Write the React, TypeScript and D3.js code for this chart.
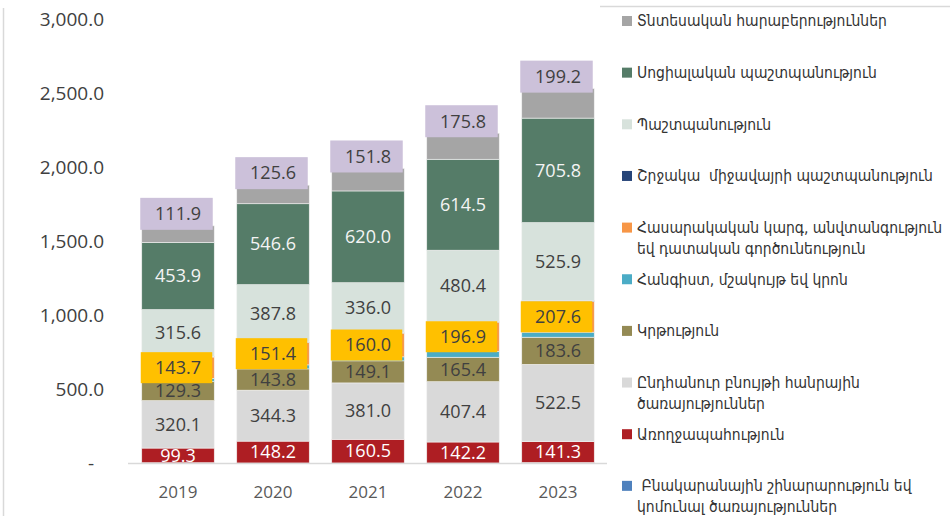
import React from 'react';
import * as d3 from 'd3';

const years = ['2019', '2020', '2021', '2022', '2023'];
const housing = [5, 3, 3, 3, 6];
const health = [99.3, 148.2, 160.5, 142.2, 141.3];
const generalServices = [320.1, 344.3, 381.0, 407.4, 522.5];
const education = [129.3, 143.8, 149.1, 165.4, 183.6];
const recreation = [22, 27, 27, 40, 34];
const publicOrder = [143.7, 151.4, 160.0, 196.9, 207.6];
const environment = [5, 3, 5, 6, 7];
const defense = [315.6, 387.8, 336.0, 480.4, 525.9];
const social = [453.9, 546.6, 620.0, 614.5, 705.8];
const economic = [111.9, 125.6, 151.8, 175.8, 199.2];
const yTicks = [0, 500, 1000, 1500, 2000, 2500, 3000];

// stacking order: bottom -> top
const seriesKeys = ['housing', 'health', 'general', 'education', 'recreation', 'publicOrder', 'environment', 'defense', 'social', 'economic'];
const seriesValues = [housing, health, generalServices, education, recreation, publicOrder, environment, defense, social, economic];
const seriesColors = ['#4f81bd', '#ae1e23', '#d9d9d9', '#948a54', '#4bacc6', '#f79646', '#264478', '#d7e2dc', '#557c68', '#a5a5a5'];
const seriesNames = [
  ['\u00a0Բնակարանային շինարարություն եվ', 'կոմունալ ծառայություններ'],
  ['Առողջապահություն'],
  ['Ընդհանուր բնույթի հանրային', 'ծառայություններ'],
  ['Կրթություն'],
  ['Հանգիստ, մշակույթ եվ կրոն'],
  ['Հասարակական կարգ, անվտանգություն', 'եվ դատական գործունեություն'],
  ['Շրջակա  միջավայրի պաշտպանություն'],
  ['Պաշտպանություն'],
  ['Սոցիալական պաշտպանություն'],
  ['Տնտեսական հարաբերություններ'],
];
// label styles
const labelMode = ['none', 'plain', 'plain', 'plain', 'none', 'yellow', 'none', 'plain', 'plain', 'lilac'];
const labelColor = ['', '#ffffff', '#404040', '#404040', '', '#404040', '', '#404040', '#f4f4f4', '#404040'];

const W = 950;
const H = 516;
const FONT = "'Open Sans', 'Liberation Sans', 'DejaVu Sans', sans-serif";
const LFONT = "'DejaVu Sans Condensed', 'DejaVu Sans', sans-serif";

export default function App() {
  const rows = years.map((y, i) => {
    const r: any = { year: y };
    seriesKeys.forEach((k, j) => (r[k] = seriesValues[j][i]));
    return r;
  });
  const stack = d3.stack<any>().keys(seriesKeys)(rows);

  const x = d3.scaleBand<string>().domain(years).range([130.5, 605.5]).paddingInner(0.237).paddingOuter(0.1185);
  const y = d3.scaleLinear().domain([0, 3000]).range([463.5, 19.5]);
  const fmt = d3.format(',.1f');
  const bw = x.bandwidth();

  const legendTop = 21;
  const legendStep = 51.65;

  return (
    <svg width={W} height={H} style={{ position: 'absolute', left: 0, top: 0, background: '#fff' }}>
      {/* frame lines */}
      <line x1={3.5} x2={3.5} y1={8} y2={H} stroke="#d9d9d9" strokeWidth={1.5} />
      <line x1={600} x2={W} y1={6.5} y2={6.5} stroke="#d9d9d9" strokeWidth={1.5} />

      {/* y axis labels */}
      {yTicks.map((t) => (
        <text key={t} x={t === 0 ? 94 : 104} y={y(t)} dy="0.35em" textAnchor="end" fontFamily={FONT} fontSize={19} fill="#404040">
          {t === 0 ? '-' : fmt(t)}
        </text>
      ))}

      {/* bars */}
      {stack.map((s, j) => (
        <g key={seriesKeys[j]}>
          {s.map((d, i) => (
            <rect key={i} x={x(years[i])} y={y(d[1])} width={bw} height={Math.max(0, y(d[0]) - y(d[1]))} fill={seriesColors[j]} stroke="#f2f2f2" strokeWidth={0.6} />
          ))}
        </g>
      ))}

      {/* axis line */}
      <line x1={128} x2={607} y1={463.5} y2={463.5} stroke="#d9d9d9" strokeWidth={1.5} />

      {/* labels */}
      {stack.map((s, j) => {
        const mode = labelMode[j];
        if (mode === 'none') return null;
        return (
          <g key={'l' + j}>
            {s.map((d, i) => {
              const bx = x(years[i]) as number;
              const v = seriesValues[j][i];
              let cy = (y(d[0]) + y(d[1])) / 2;
              let box = null;
              if (mode === 'yellow') {
                box = <rect x={bx - 1} y={cy - 15.5} width={bw - 1} height={31} fill="#ffc000" />;
              } else if (mode === 'lilac') {
                cy = y(d[1]) - 12;
                box = <rect x={bx - 1.5} y={cy - 16} width={bw} height={32} fill="#ccc1da" />;
              }
              return (
                <g key={i}>
                  {box}
                  <text x={bx + bw / 2} y={cy} dy="0.35em" textAnchor="middle" fontFamily={FONT} fontSize={18} fill={labelColor[j]}>
                    {fmt(v)}
                  </text>
                </g>
              );
            })}
          </g>
        );
      })}

      {/* x axis labels */}
      {years.map((yr) => (
        <text key={yr} x={(x(yr) as number) + bw / 2} y={492} dy="0.35em" textAnchor="middle" fontFamily={FONT} fontSize={17} fill="#595959">
          {yr}
        </text>
      ))}

      {/* legend (top -> bottom = reverse stack order) */}
      {seriesKeys
        .map((_, j) => j)
        .reverse()
        .map((j, idx) => {
          const ly = legendTop + idx * legendStep;
          return (
            <g key={'leg' + j}>
              <rect x={622} y={ly - 5} width={10} height={10} fill={seriesColors[j]} />
              {seriesNames[j].map((line, li) => (
                <text key={li} x={637} y={ly + li * 21} dy="0.35em" fontFamily={LFONT} fontSize={15.5} fill="#333" style={{ whiteSpace: 'pre' }}>
                  {line}
                </text>
              ))}
            </g>
          );
        })}
    </svg>
  );
}
